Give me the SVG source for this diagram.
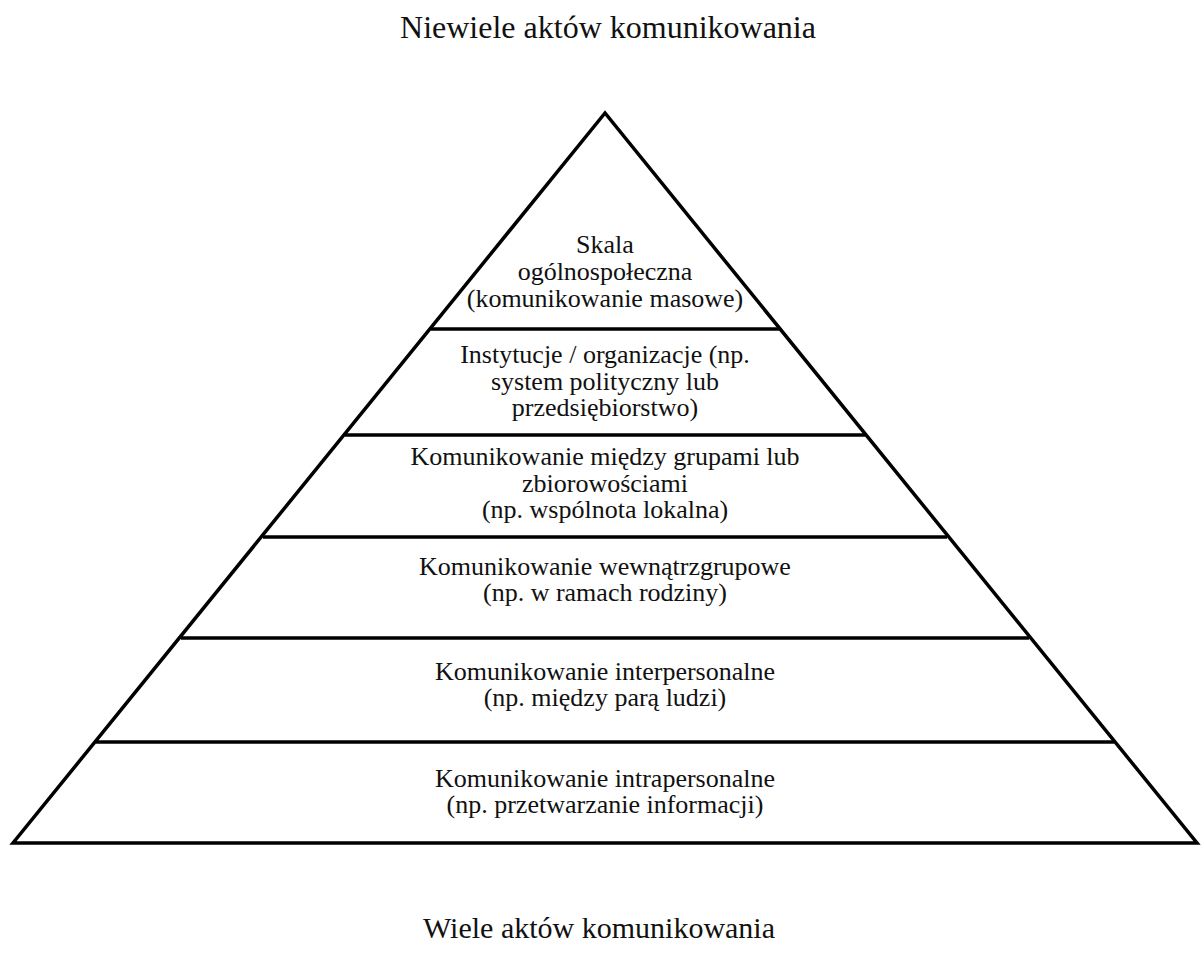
<svg xmlns="http://www.w3.org/2000/svg" width="1204" height="954" viewBox="0 0 1204 954">
  <style>
    .edge { stroke: #000; stroke-width: 3.5; fill: none; stroke-linejoin: miter; }
    .lbl { font-family: "Liberation Serif", "Times New Roman", serif; font-size: 26px; fill: #111; text-anchor: middle; }
    .cap { font-family: "Liberation Serif", "Times New Roman", serif; fill: #111; text-anchor: middle; }
  </style>
  <rect width="1204" height="954" fill="#fff"/>

  <text class="cap" x="608" y="38" font-size="32">Niewiele aktów komunikowania</text>
  <text class="cap" x="599" y="938" font-size="30">Wiele aktów komunikowania</text>

  <!-- pyramid outline and level dividers -->
  <g id="connectors">
    <polygon class="edge" points="605,113 13,843 1197,843"/>
    <line class="edge" x1="431" y1="329" x2="779" y2="329"/>
    <line class="edge" x1="345" y1="435" x2="865" y2="435"/>
    <line class="edge" x1="263" y1="537" x2="947" y2="537"/>
    <line class="edge" x1="181" y1="638" x2="1029" y2="638"/>
    <line class="edge" x1="96" y1="742" x2="1114" y2="742"/>
  </g>

  <g id="level-society">
    <text class="lbl" x="605" y="253">Skala</text>
    <text class="lbl" x="605" y="280">ogólnospołeczna</text>
    <text class="lbl" x="605" y="307">(komunikowanie masowe)</text>
  </g>
  <g id="level-institution">
    <text class="lbl" x="605" y="363">Instytucje / organizacje (np.</text>
    <text class="lbl" x="605" y="390">system polityczny lub</text>
    <text class="lbl" x="605" y="416">przedsiębiorstwo)</text>
  </g>
  <g id="level-intergroup">
    <text class="lbl" x="605" y="465">Komunikowanie między grupami lub</text>
    <text class="lbl" x="605" y="492">zbiorowościami</text>
    <text class="lbl" x="605" y="518">(np. wspólnota lokalna)</text>
  </g>
  <g id="level-intragroup">
    <text class="lbl" x="605" y="575">Komunikowanie wewnątrzgrupowe</text>
    <text class="lbl" x="605" y="601">(np. w ramach rodziny)</text>
  </g>
  <g id="level-interpersonal">
    <text class="lbl" x="605" y="680">Komunikowanie interpersonalne</text>
    <text class="lbl" x="605" y="706">(np. między parą ludzi)</text>
  </g>
  <g id="level-intrapersonal">
    <text class="lbl" x="605" y="787">Komunikowanie intrapersonalne</text>
    <text class="lbl" x="605" y="813">(np. przetwarzanie informacji)</text>
  </g>
</svg>
